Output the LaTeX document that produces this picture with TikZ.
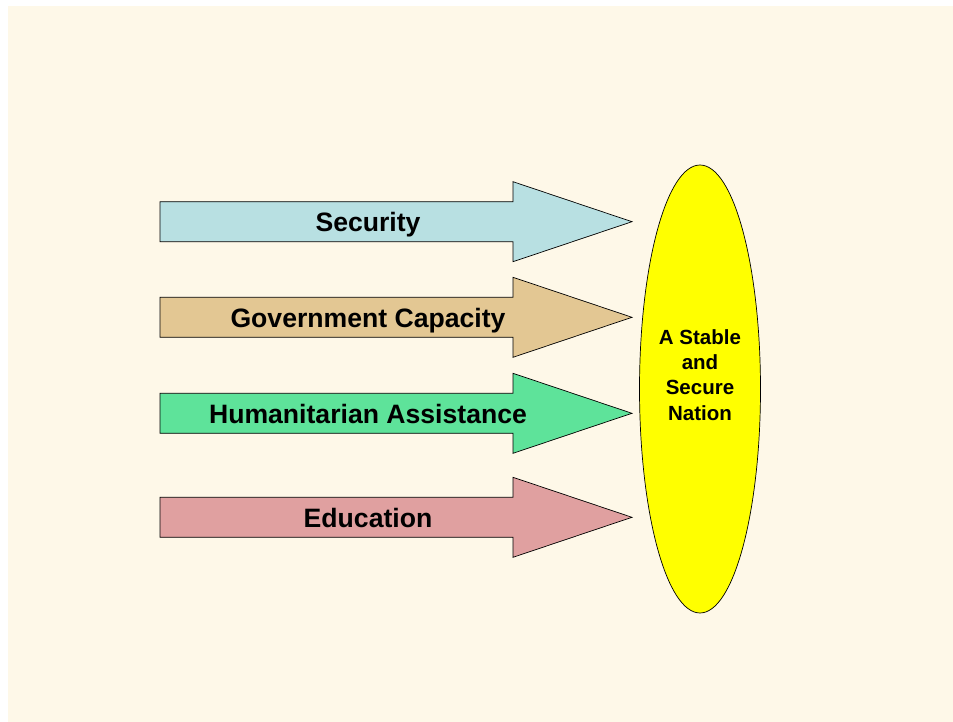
\documentclass[tikz,border=0pt]{standalone}
\usepackage{fontspec}
\setmainfont{Liberation Sans}
\usetikzlibrary{positioning,shapes.geometric}

\definecolor{pagecream}{RGB}{254,248,232}
\definecolor{secblue}{RGB}{184,224,226}
\definecolor{govtan}{RGB}{227,199,147}
\definecolor{humgreen}{RGB}{94,227,154}
\definecolor{edupink}{RGB}{224,160,160}
\definecolor{goalyellow}{RGB}{255,255,0}

\begin{document}
\begin{tikzpicture}[x=1pt, y=-1pt,
    bigarrow/.style={draw=black, line width=0.7pt, line join=miter},
    arrowlabel/.style={anchor=base, inner sep=0pt, font=\fontsize{26.6}{30}\selectfont\bfseries},
    goal/.style={ellipse, draw=black, line width=0.7pt, fill=goalyellow,
        minimum width=121, minimum height=448, inner sep=0pt}]

    \useasboundingbox (0,0) rectangle (953,722);
    \fill[pagecream] (8,6) rectangle (953,722);

    \coordinate (SecBegin) at (160,201.7);
    \coordinate (GovBegin) at (160,297.3);
    \coordinate (HumBegin) at (160,393.3);
    \coordinate (EduBegin) at (160,497.3);

    %Arrows
    \draw[bigarrow, fill=secblue] (SecBegin) -- ++(353,0) -- ++(0,-20) -- ++(119,40)
        -- ++(-119,40) -- ++(0,-20) -- ++(-353,0) -- cycle;
    \draw[bigarrow, fill=govtan] (GovBegin) -- ++(353,0) -- ++(0,-20) -- ++(119,40)
        -- ++(-119,40) -- ++(0,-20) -- ++(-353,0) -- cycle;
    \draw[bigarrow, fill=humgreen] (HumBegin) -- ++(353,0) -- ++(0,-20) -- ++(119,40)
        -- ++(-119,40) -- ++(0,-20) -- ++(-353,0) -- cycle;
    \draw[bigarrow, fill=edupink] (EduBegin) -- ++(353,0) -- ++(0,-20) -- ++(119,40)
        -- ++(-119,40) -- ++(0,-20) -- ++(-353,0) -- cycle;

    \node[arrowlabel] (security) at (368,231.7) {Security};
    \node[arrowlabel] (government) at (368,327.3) {Government Capacity};
    \node[arrowlabel] (humanitarian) at (368,423.3) {Humanitarian Assistance};
    \node[arrowlabel] (education) at (368,527.3) {Education};

    %Goal
    \node[goal] (nation) at (700,389) {};
    \node[align=center, inner sep=0pt, font=\fontsize{20.5}{25.3}\selectfont\bfseries]
        (nationtext) at (700,375) {A Stable\\and\\Secure\\Nation};
\end{tikzpicture}
\end{document}
